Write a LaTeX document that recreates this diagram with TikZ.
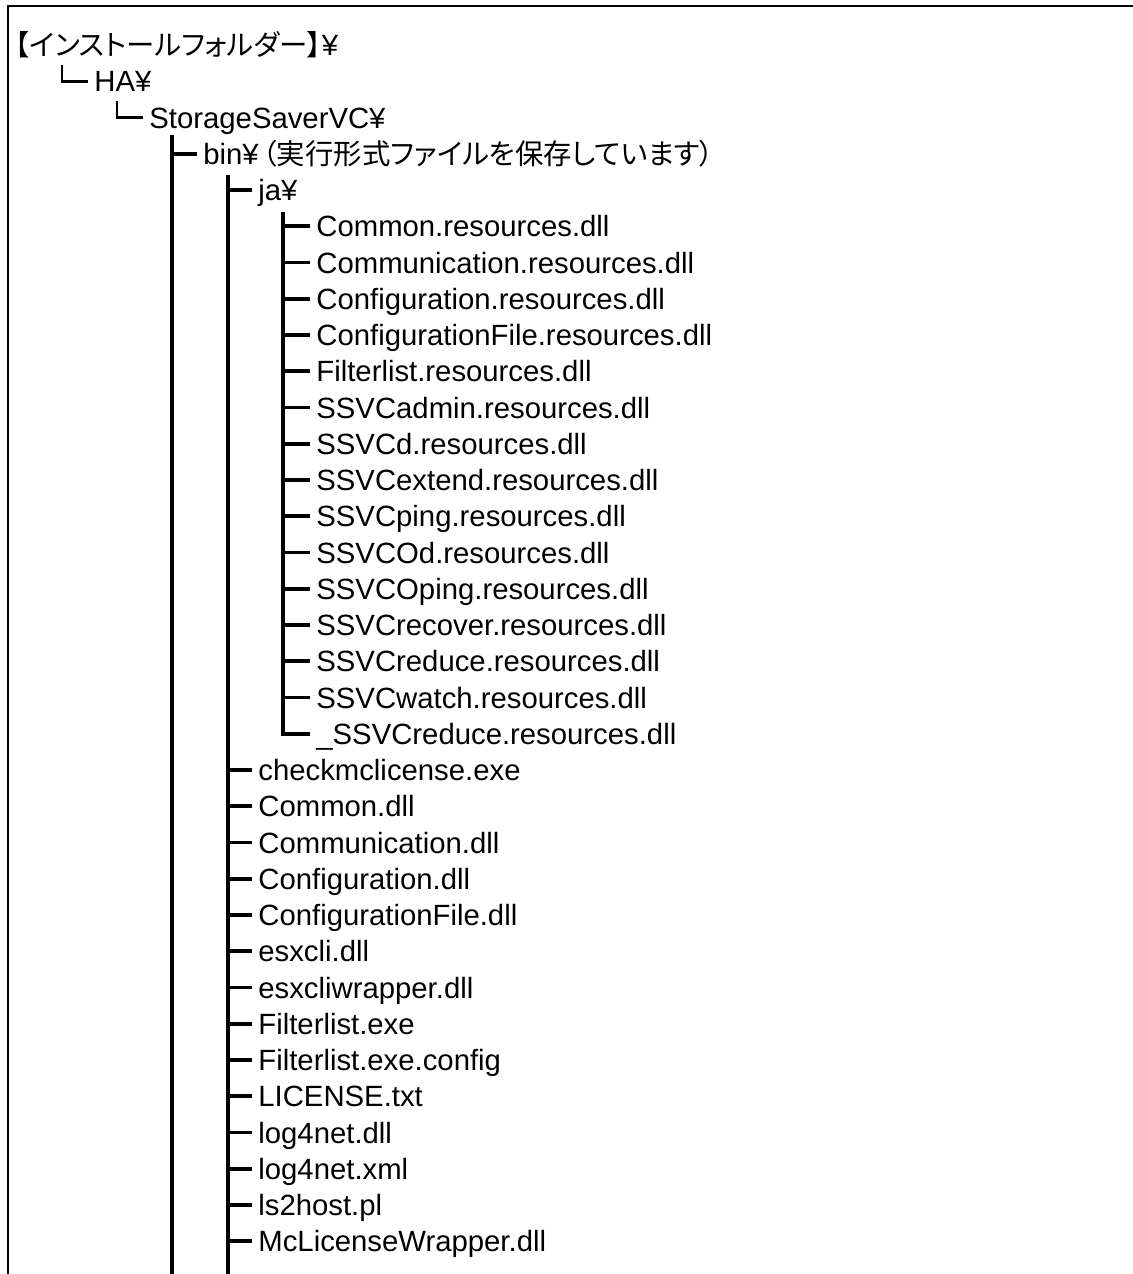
\documentclass[tikz,border=0pt]{standalone}
\usepackage{fontspec}
\setmainfont{Liberation Sans}
\newfontfamily\jpfont[RawFeature=+palt]{Noto Sans CJK JP}
\usepackage{tikz}
\usetikzlibrary{calc}
\newcommand{\rowY}[1]{45+(#1-1)*36.25}% row centre: px from top
\newcommand{\jp}[1]{{\jpfont\fontsize{14.2pt}{16pt}\selectfont #1}}
\tikzset{
  entry/.style={anchor=west,inner xsep=3pt,inner ysep=0pt,
    text height=10.5pt,text depth=0pt,
    font=\fontsize{14.65pt}{16pt}\selectfont},
  branch/.style={line width=1.9pt},
  corner/.style={line width=1.3pt},
  frame/.style={line width=1.2pt}
}

\begin{document}
\begin{tikzpicture}[x=0.5pt,y=-0.5pt]
\useasboundingbox (0,0) rectangle (1133,1274);

% Frame (runs on past the right and bottom edges)
\draw[frame] (8,1274) -- (8,6) -- (1133,6);

% Install folder, HA, StorageSaverVC
\node[entry] (root) at (9,{\rowY{1}}) {\jp{【インストールフォルダー】}¥};
\node[entry] (ha) at (88,{\rowY{2}}) {HA¥};
\node[entry] (svc) at (143,{\rowY{3}}) {StorageSaverVC¥};
\coordinate (haTop) at (62,{\rowY{1}+20});
\draw[corner] (haTop) |- (ha.west);
\coordinate (svcTop) at (117,{\rowY{2}+20});
\draw[corner] (svcTop) |- (svc.west);

% bin
\node[entry] (bin) at (197,{\rowY{4}}) {bin¥\hspace{2pt}\jp{（実行形式ファイルを保存しています）}};
\coordinate (svcTrunk) at (172,135);
\coordinate (svcTrunkEnd) at (172,1274);
\draw[branch] (svcTrunk) -- (svcTrunkEnd);
\draw[branch] (svcTrunk |- bin.west) -- (bin.west);

% ja
\node[entry] (ja) at (252,{\rowY{5}}) {ja¥};
\coordinate (binTrunk) at (228,175);
\coordinate (binTrunkEnd) at (228,1274);
\draw[branch] (binTrunk) -- (binTrunkEnd);
\draw[branch] (binTrunk |- ja.west) -- (ja.west);

% Files in ja
\foreach \f [count=\i] in {Common.resources.dll,Communication.resources.dll,
  Configuration.resources.dll,ConfigurationFile.resources.dll,
  Filterlist.resources.dll,SSVCadmin.resources.dll,SSVCd.resources.dll,
  SSVCextend.resources.dll,SSVCping.resources.dll,SSVCOd.resources.dll,
  SSVCOping.resources.dll,SSVCrecover.resources.dll,
  SSVCreduce.resources.dll,SSVCwatch.resources.dll,\_SSVCreduce.resources.dll}
  \node[entry] (jf\i) at (310,{\rowY{\i+5}}) {\f};
\coordinate (jaTrunk) at (283,212);
\foreach \i in {1,...,14}
  \draw[branch] (jaTrunk |- jf\i.west) -- (jf\i.west);
\draw[branch] (jaTrunk) |- (jf15.west);

% Files in bin
\foreach \f [count=\i] in {checkmclicense.exe,Common.dll,Communication.dll,
  Configuration.dll,ConfigurationFile.dll,esxcli.dll,esxcliwrapper.dll,
  Filterlist.exe,Filterlist.exe.config,LICENSE.txt,log4net.dll,log4net.xml,
  ls2host.pl,McLicenseWrapper.dll}
  \node[entry] (bf\i) at (252,{\rowY{\i+20}}) {\f};
\foreach \i in {1,...,14}
  \draw[branch] (binTrunk |- bf\i.west) -- (bf\i.west);
\end{tikzpicture}
\end{document}
